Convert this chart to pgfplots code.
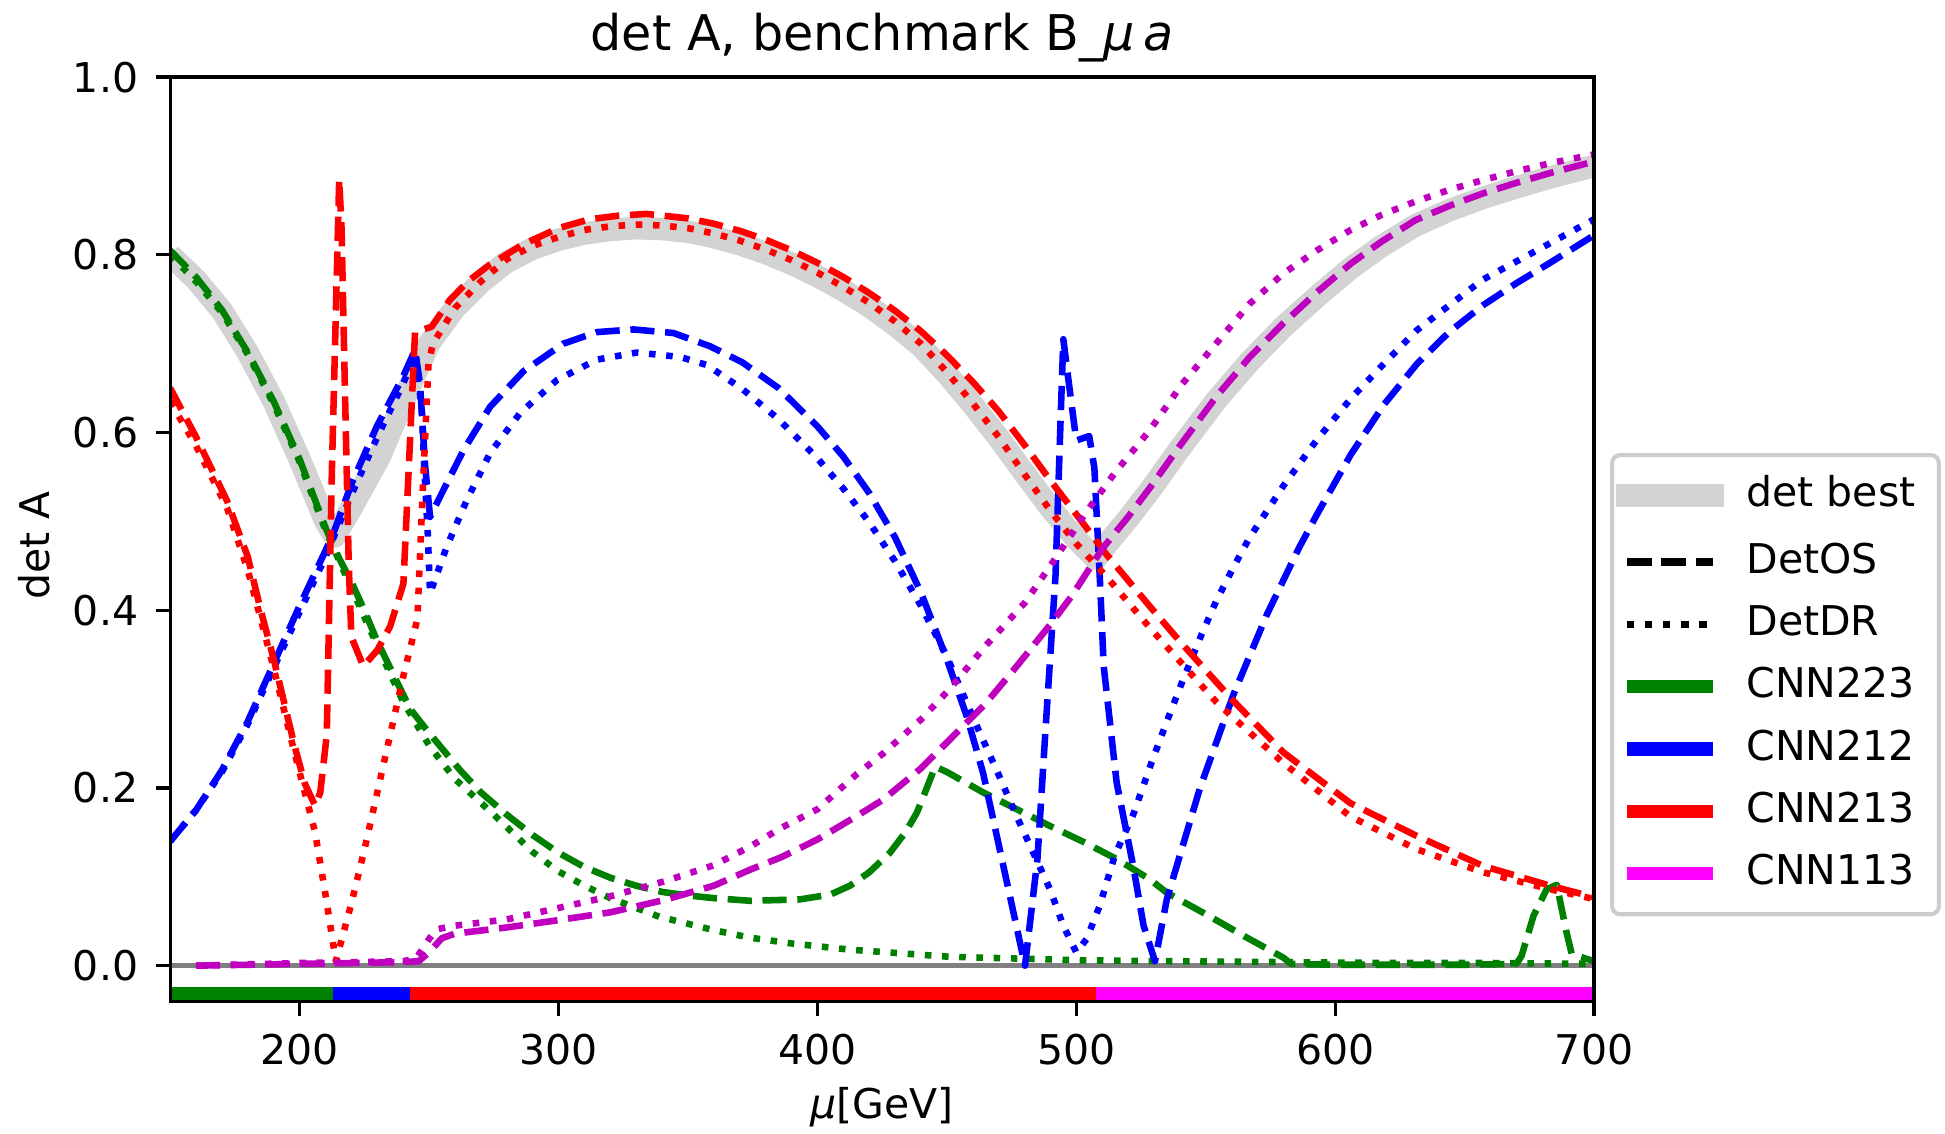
\documentclass[border=0pt]{standalone}
\usepackage{fontspec}
\setmainfont{DejaVu Sans}
\usepackage{pgfplots}
\pgfplotsset{compat=1.18}
\definecolor{cgreen}{RGB}{0,128,0}
\definecolor{cblue}{RGB}{0,0,255}
\definecolor{cred}{RGB}{255,0,0}
\definecolor{cmag}{RGB}{191,0,191}
\definecolor{cmagbar}{RGB}{255,0,255}
\definecolor{lgray}{RGB}{211,211,211}
\definecolor{zgray}{RGB}{128,128,128}
\definecolor{legedge}{RGB}{204,204,204}
\tikzset{
  os/.style={line width=1.6pt, dash pattern=on 5.9pt off 2.6pt, line join=round},
  dr/.style={line width=1.6pt, dash pattern=on 1.6pt off 2.6pt, line join=round},
}
\begin{document}
\begin{tikzpicture}
\begin{axis}[
  width=347.3pt, height=225.4pt, scale only axis,
  xmin=150, xmax=700, ymin=-0.04, ymax=1.0,
  xtick={200,300,400,500,600,700},
  ytick={0,0.2,0.4,0.6,0.8,1.0},
  /pgf/number format/assume math mode=true,
  tick align=outside, tick pos=left,
  major tick length=3.5pt,
  major tick style={line width=0.8pt, black},
  axis line style={line width=0.8pt},
  axis on top,
  tick label style={font=\fontsize{10}{12}\selectfont, inner sep=0pt},
  xticklabel style={anchor=north, yshift=-4.3pt},
  yticklabel style={anchor=east, xshift=-4.1pt, /pgf/number format/fixed, /pgf/number format/fixed zerofill, /pgf/number format/precision=1},
  label style={font=\fontsize{10}{12}\selectfont},
  xlabel={\textit{μ}[GeV]},
  ylabel={det A},
  xlabel style={at={(axis description cs:0.5,0)}, anchor=base, yshift=-28.5pt},
  ylabel style={at={(axis description cs:-0.0847,0.4929)}, anchor=base},
  title={det A, benchmark B\_\textit{μ}\,\textit{a}},
  title style={at={(axis description cs:0.5,1)}, anchor=base, yshift=0.6pt, font=\fontsize{12}{14.4}\selectfont},
  legend image code/.code={\draw[#1] (0pt,0pt) -- (21pt,0pt); \path (0pt,-2.85pt) (0pt,0.95pt);},
  legend cell align=left,
  legend style={
    at={(1.0112,0.5932)}, anchor=north west,
    draw=legedge, line width=1pt, rounded corners=2pt, fill=white,
    inner xsep=0.9pt, inner ysep=5.3pt,
    row sep=6pt, column sep=5.4pt,
    nodes={inner sep=0pt, text height=7.3pt, text depth=1.9pt},
    font=\fontsize{10}{12}\selectfont,
  },
]
\coordinate (bl) at (rel axis cs:0,0);
\coordinate (tr) at (rel axis cs:1,1);

% det best
\addplot[forget plot, lgray, line width=5.5pt, line join=round] coordinates {
(150,0.800) (160,0.772) (170,0.737) (180,0.690) (190,0.635) (200,0.570) (205,0.535) (210,0.500) (213.5,0.483) (220,0.515) (231,0.573) (240,0.635) (245,0.668) (250,0.700) (260,0.740) (270,0.769) (280,0.792) (290,0.807) (300,0.817) (310,0.824) (320,0.828) (330,0.830) (340,0.829) (350,0.826) (360,0.820) (370,0.812) (380,0.802) (390,0.790) (400,0.776) (410,0.760) (420,0.742) (430,0.721) (440,0.697) (450,0.666) (460,0.631) (470,0.594) (480,0.554) (490,0.515) (500,0.480) (507.5,0.458) (512,0.475) (520,0.503) (529,0.537) (540,0.582) (554,0.636) (567,0.680) (580,0.719) (593,0.753) (606,0.785) (618,0.810) (631,0.833) (644,0.850) (657,0.864) (670,0.876) (683,0.887) (700,0.900)
};
% zero line
\addplot[forget plot, zgray, line width=1.15pt] coordinates {(150,0) (700,0)};

% CNN223
\addplot[forget plot, cgreen, os] coordinates {
(150,0.805) (160,0.775) (170,0.738) (180,0.690) (190,0.635) (200,0.570) (210,0.493) (215,0.460) (220,0.432) (225,0.400) (230,0.365) (242.7,0.289) (250,0.262) (262,0.220) (270,0.195) (280,0.170) (290,0.147) (300,0.127) (310,0.111) (320,0.099) (330,0.090) (340,0.083) (350,0.079) (360,0.076) (374,0.073) (393,0.0745) (405,0.080) (412.6,0.090) (420,0.105) (428,0.127) (434,0.150) (438.4,0.172) (442,0.198) (445.5,0.224) (450,0.218) (464,0.195) (477,0.176) (490,0.157) (503,0.139) (515.6,0.120) (528.5,0.097) (535,0.082) (550,0.058) (565,0.033) (580,0.009) (583,0.002) (600,0.001) (650,0.001) (670,0.002) (672,0.011) (676.6,0.056) (681.7,0.086) (685.6,0.091) (689.4,0.037) (691.4,0.013) (700,0.005)
};
\addplot[forget plot, cgreen, dr] coordinates {
(150,0.800) (160,0.770) (170,0.735) (180,0.688) (190,0.632) (200,0.567) (210,0.490) (220,0.425) (230,0.360) (240,0.297) (250,0.248) (260,0.210) (275,0.170) (290,0.128) (300,0.106) (310,0.090) (320,0.076) (339,0.055) (360,0.040) (374,0.0315) (390,0.025) (412.6,0.018) (451,0.010) (503,0.006) (536,0.005) (580,0.004) (620,0.003) (660,0.003) (700,0.002)
};

% CNN212
\addplot[forget plot, cblue, os] coordinates {
(150,0.140) (160,0.175) (170,0.220) (180,0.275) (190,0.340) (200,0.405) (210,0.467) (213.5,0.490) (220,0.542) (230,0.608) (240,0.663) (244.6,0.693) (246.5,0.655) (248.5,0.562) (250.4,0.505) (254.3,0.528) (263.3,0.580) (273.6,0.629) (286.5,0.669) (301.9,0.700) (314.8,0.713) (329,0.716) (344.4,0.712) (358.6,0.697) (371,0.679) (385,0.650) (400,0.607) (410,0.573) (420,0.532) (430,0.482) (440,0.420) (450,0.345) (458,0.278) (464,0.217) (472,0.110) (480.2,0.000) (485,0.120) (488,0.260) (490,0.350) (492,0.440) (494,0.620) (495,0.705) (496.5,0.670) (500,0.591) (505,0.596) (507,0.560) (509.2,0.430) (510.6,0.337) (515.6,0.206) (522,0.112) (526,0.045) (530.4,0.005) (535,0.075) (547.8,0.200) (560.7,0.305) (573.6,0.395) (586,0.470) (593,0.508) (606,0.575) (619,0.632) (631.5,0.677) (644,0.713) (657,0.743) (670,0.768) (683,0.791) (700,0.822)
};
\addplot[forget plot, cblue, dr] coordinates {
(150,0.140) (160,0.175) (170,0.218) (180,0.272) (190,0.335) (200,0.398) (210,0.460) (220,0.530) (230,0.595) (240,0.655) (244.6,0.688) (247.2,0.627) (248,0.570) (249.5,0.487) (250.4,0.419) (256.9,0.472) (264.6,0.524) (273.6,0.577) (285.2,0.622) (299.4,0.659) (314.8,0.682) (330.3,0.690) (347,0.685) (357.3,0.676) (371,0.649) (385,0.615) (400,0.571) (410,0.537) (420,0.499) (430,0.455) (440,0.405) (450,0.348) (460,0.280) (470,0.215) (477,0.168) (490,0.085) (495,0.045) (500,0.015) (504,0.030) (509,0.067) (515,0.125) (522,0.170) (529,0.228) (535,0.275) (541,0.320) (548,0.370) (554,0.410) (561,0.450) (567,0.482) (580,0.540) (593,0.592) (606,0.638) (619,0.678) (631.5,0.715) (657,0.772) (683,0.813) (700,0.840)
};

% CNN213
\addplot[forget plot, cred, os] coordinates {
(150,0.650) (160,0.595) (172,0.523) (180,0.460) (185,0.400) (190,0.345) (198,0.248) (202,0.205) (206,0.180) (208,0.195) (210.5,0.260) (212.5,0.560) (215.3,0.885) (216.2,0.830) (217.5,0.650) (219,0.450) (220,0.370) (224.6,0.337) (230,0.355) (235,0.382) (240.1,0.430) (244.6,0.713) (251,0.719) (258,0.749) (265,0.770) (273,0.788) (286.5,0.812) (300,0.830) (312,0.840) (323,0.844) (334,0.846) (350,0.841) (360,0.835) (370,0.827) (380,0.817) (390,0.805) (400,0.791) (410,0.775) (420,0.757) (430,0.737) (440,0.714) (450,0.687) (460,0.657) (470,0.624) (480,0.586) (490,0.546) (500,0.508) (511.6,0.463) (528.5,0.404) (540,0.365) (560,0.300) (580,0.240) (605.8,0.183) (631.5,0.146) (657.3,0.112) (683,0.090) (700,0.077)
};
\addplot[forget plot, cred, dr] coordinates {
(150,0.635) (160,0.585) (172,0.515) (180,0.445) (185,0.390) (190,0.335) (198,0.240) (202,0.195) (206,0.150) (210,0.080) (214,0.005) (220,0.070) (225,0.130) (230,0.195) (235,0.260) (240,0.325) (245.5,0.390) (247.5,0.530) (249.8,0.678) (251.5,0.700) (260,0.740) (270,0.770) (280,0.795) (290,0.810) (300,0.820) (310,0.828) (320,0.832) (330,0.834) (340,0.833) (350,0.830) (360,0.824) (370,0.816) (380,0.806) (390,0.794) (400,0.780) (410,0.764) (420,0.746) (430,0.725) (440,0.700) (450,0.668) (460,0.633) (470,0.595) (480,0.553) (490,0.512) (500,0.475) (511.6,0.438) (528.5,0.380) (554.3,0.296) (580,0.228) (605.8,0.168) (631.5,0.131) (657.3,0.105) (683,0.086) (700,0.075)
};

% CNN113
\addplot[forget plot, cmag, os] coordinates {
(160,0.000) (200,0.002) (240,0.004) (246,0.005) (250,0.015) (255,0.031) (260,0.036) (280,0.043) (297,0.050) (320,0.060) (341,0.074) (360,0.090) (374,0.108) (386,0.122) (400,0.142) (415,0.168) (425.5,0.187) (440,0.222) (451,0.254) (465,0.295) (477,0.337) (490,0.384) (498,0.415) (510,0.469) (520,0.505) (529,0.540) (540,0.585) (554,0.640) (567,0.685) (580,0.723) (593,0.758) (606,0.790) (618,0.815) (631,0.839) (644,0.855) (657,0.869) (670,0.881) (683,0.892) (700,0.905)
};
\addplot[forget plot, cmag, dr] coordinates {
(160,0.000) (200,0.003) (240,0.005) (245,0.008) (250,0.030) (253,0.041) (260,0.045) (280,0.052) (297,0.063) (320,0.078) (341,0.095) (360,0.113) (374,0.134) (386,0.155) (400,0.176) (415,0.215) (425.5,0.239) (440,0.277) (451,0.311) (465,0.360) (480,0.408) (490,0.450) (504,0.511) (515,0.555) (528.5,0.603) (541,0.655) (554,0.700) (567,0.745) (580,0.779) (593,0.805) (606,0.828) (618,0.845) (631,0.860) (644,0.873) (657,0.884) (670,0.894) (683,0.903) (700,0.913)
};

% best-method bar
\addplot[forget plot, cgreen, line width=3.1pt] coordinates {(150,-0.031) (212.8,-0.031)};
\addplot[forget plot, cblue, line width=3.1pt] coordinates {(212.8,-0.031) (242.5,-0.031)};
\addplot[forget plot, cred, line width=3.1pt] coordinates {(242.5,-0.031) (507.5,-0.031)};
\addplot[forget plot, cmagbar, line width=3.1pt] coordinates {(507.5,-0.031) (700,-0.031)};

% legend
\addlegendimage{lgray, line width=5.5pt, line cap=rect}
\addlegendentry{det best\rule{4.8pt}{0pt}}
\addlegendimage{black, line width=1.8pt, dash pattern=on 6pt off 2.4pt}
\addlegendentry{DetOS}
\addlegendimage{black, line width=1.8pt, dash pattern=on 1.8pt off 2.6pt}
\addlegendentry{DetDR}
\addlegendimage{cgreen, line width=3.2pt}
\addlegendentry{CNN223}
\addlegendimage{cblue, line width=3.2pt}
\addlegendentry{CNN212}
\addlegendimage{cred, line width=3.2pt}
\addlegendentry{CNN213}
\addlegendimage{cmagbar, line width=3.2pt}
\addlegendentry{CNN113}
\end{axis}
\pgfresetboundingbox
\path ([xshift=-41.5pt,yshift=-32.2pt]bl) rectangle ([xshift=85.6pt,yshift=18.8pt]tr);
\end{tikzpicture}
\end{document}
